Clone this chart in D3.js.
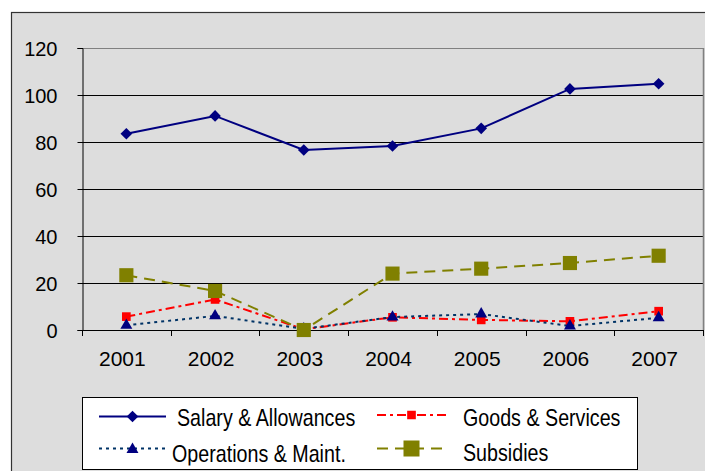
<!DOCTYPE html>
<html>
<head>
<meta charset="utf-8">
<script src="https://cdn.jsdelivr.net/npm/d3@7"></script>
<style>
  html, body { margin: 0; padding: 0; background: #ffffff; }
  svg { display: block; }
  text { font-family: "Liberation Sans", Arial, sans-serif; fill: #000; }
</style>
</head>
<body>
<svg id="chart" width="705" height="471"></svg>
<script>
// ---- data ----
const years = ["2001", "2002", "2003", "2004", "2005", "2006", "2007"];
const salaryAllowances = [83.5, 91.1, 76.6, 78.3, 85.8, 102.6, 104.8];
const goodsServices    = [5.7, 13.0, 0.3, 5.4, 4.3, 3.7, 8.0];
const operationsMaint  = [2.0, 6.0, 0.5, 5.5, 6.8, 1.7, 5.2];
const subsidies        = [23.3, 16.6, 0.0, 24.0, 26.1, 28.5, 31.6];
const yTicks = [0, 20, 40, 60, 80, 100, 120];
const seriesNames = ["Salary & Allowances", "Goods & Services", "Operations & Maint.", "Subsidies"];

const svg = d3.select("#chart");

// chart area
svg.append("rect").attr("x", 11.5).attr("y", 12.5).attr("width", 720).attr("height", 480)
  .attr("fill", "#dddddd").attr("stroke", "#333").attr("stroke-width", 1.2);

const plot = { left: 82, top: 48, right: 703, bottom: 330 };
const x = d3.scaleBand().domain(years).range([plot.left, plot.right]).padding(0);
const y = d3.scaleLinear().domain([0, 120]).range([plot.bottom, plot.top]);
const cx = d => x(d) + x.bandwidth() / 2;

// gridlines
svg.append("g").selectAll("line").data(yTicks.filter(t => t > 0)).join("line")
  .attr("x1", plot.left).attr("x2", plot.right)
  .attr("y1", d => Math.round(y(d)) + 0.5).attr("y2", d => Math.round(y(d)) + 0.5)
  .attr("stroke", d => d === 120 ? "#808080" : "#000").attr("stroke-width", 1);
// right border
svg.append("line").attr("x1", plot.right + 0.5).attr("x2", plot.right + 0.5)
  .attr("y1", plot.top).attr("y2", plot.bottom).attr("stroke", "#808080").attr("stroke-width", 1.5);

// y axis
const yAxis = d3.axisLeft(y).tickValues(yTicks).tickSize(5).tickPadding(20);
const gy = svg.append("g").attr("transform", `translate(${plot.left + 0.5},0)`).call(yAxis);
gy.select(".domain").attr("stroke", "#000");
gy.selectAll(".tick line").attr("stroke", "#000");
gy.selectAll(".tick text").attr("font-size", 20).attr("font-family", "Liberation Sans, Arial, sans-serif")
  .attr("fill", "#000").attr("x", -25).attr("dy", "0.36em");

// x axis
const xAxis = d3.axisBottom(x).tickSize(0).tickPadding(0);
const gx = svg.append("g").attr("transform", `translate(0,${Math.round(plot.bottom) + 0.5})`).call(xAxis);
gx.select(".domain").attr("stroke", "#000").attr("d", `M${plot.left},0H${plot.right}`);
gx.selectAll(".tick text").attr("font-size", 21).attr("font-family", "Liberation Sans, Arial, sans-serif")
  .attr("fill", "#000").attr("y", 35).attr("dy", 0).attr("x", -4);
// category boundary ticks
svg.append("g").selectAll("line").data(years.slice(1).concat(["end"])).join("line")
  .attr("x1", (d, i) => Math.round(i < years.length - 1 ? x(d) : plot.right) + 0.5)
  .attr("x2", (d, i) => Math.round(i < years.length - 1 ? x(d) : plot.right) + 0.5)
  .attr("y1", plot.bottom).attr("y2", plot.bottom + 6).attr("stroke", "#000");
svg.append("line").attr("x1", plot.left + 0.5).attr("x2", plot.left + 0.5)
  .attr("y1", plot.bottom).attr("y2", plot.bottom + 6).attr("stroke", "#000");

// series definitions
const series = [
  { name: seriesNames[0], values: salaryAllowances, color: "#000080", mcolor: "#000080", dash: null, shape: d3.symbolSquare, size: 68, rot: 45 },
  { name: seriesNames[1], values: goodsServices, color: "#ff0000", mcolor: "#ff0000", dash: "9,4,3,4", shape: d3.symbolSquare, size: 75, rot: 0 },
  { name: seriesNames[2], values: operationsMaint, color: "#003366", mcolor: "#000080", dash: "3,4", shape: d3.symbolTriangle, size: 62, rot: 0 },
  { name: seriesNames[3], values: subsidies, color: "#808000", mcolor: "#808000", dash: "11,7", shape: d3.symbolSquare, size: 200, rot: 0 }
];

const line = d3.line().x(d => cx(d.year)).y(d => y(d.v));
series.forEach(s => {
  const pts = years.map((yr, i) => ({ year: yr, v: s.values[i] }));
  svg.append("path").datum(pts).attr("d", line).attr("fill", "none")
    .attr("stroke", s.color).attr("stroke-width", 2)
    .attr("stroke-dasharray", s.dash);
  svg.append("g").selectAll("path").data(pts).join("path")
    .attr("d", d3.symbol().type(s.shape).size(s.size))
    .attr("transform", d => `translate(${cx(d.year)},${y(d.v)}) rotate(${s.rot})`)
    .attr("fill", s.mcolor);
});

// legend
const lg = { x: 82.5, y: 397.5, w: 555, h: 72 };
svg.append("defs").append("clipPath").attr("id", "lgclip").append("rect")
  .attr("x", lg.x).attr("y", lg.y).attr("width", lg.w).attr("height", lg.h - 4);
svg.append("rect").attr("x", lg.x).attr("y", lg.y).attr("width", lg.w).attr("height", lg.h)
  .attr("fill", "#fff").attr("stroke", "#000").attr("stroke-width", 1);
const legendItems = [
  { s: series[0], lx: 99, ly: 416.5, tx: 177, ty: 426 },
  { s: series[1], lx: 377, ly: 415, tx: 463, ty: 426 },
  { s: series[2], lx: 99, ly: 448.5, tx: 172, ty: 462 },
  { s: series[3], lx: 377, ly: 448.5, tx: 463, ty: 461 }
];
const lgG = svg.append("g").attr("clip-path", "url(#lgclip)");
legendItems.forEach(it => {
  const len = it.s === series[0] || it.s === series[2] ? 67 : 69;
  lgG.append("line").attr("x1", it.lx).attr("x2", it.lx + len).attr("y1", it.ly).attr("y2", it.ly)
    .attr("stroke", it.s.color).attr("stroke-width", 2).attr("stroke-dasharray", it.s.dash);
  lgG.append("path").attr("d", d3.symbol().type(it.s.shape).size(it.s === series[3] ? 256 : it.s.size))
    .attr("transform", `translate(${it.lx + len / 2},${it.ly + (it.s === series[2] ? 1 : 0)}) rotate(${it.s.rot})`)
    .attr("fill", it.s.mcolor);
  lgG.append("text").attr("transform", `translate(${it.tx},${it.ty}) scale(0.82,1)`)
    .attr("font-size", 24).text(it.s.name);
});
</script>
</body>
</html>
